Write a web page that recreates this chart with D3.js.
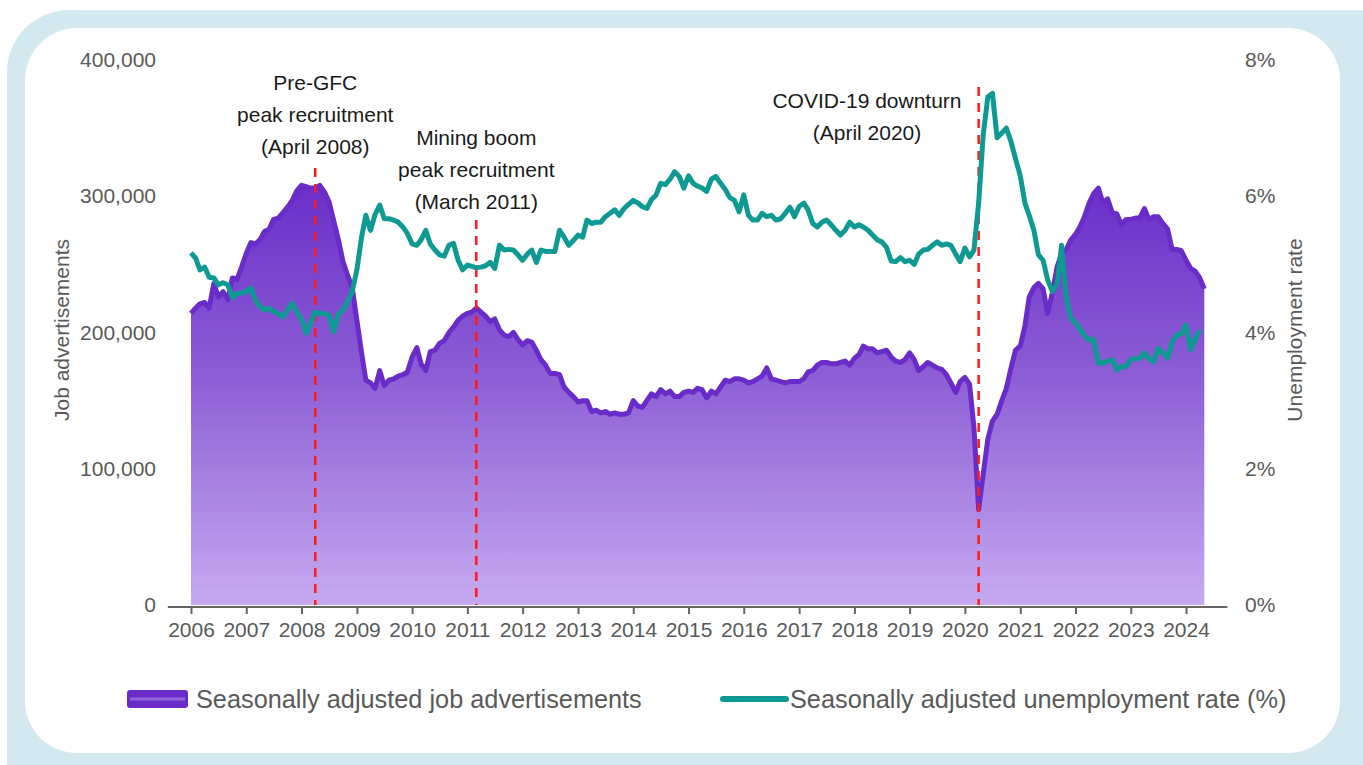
<!DOCTYPE html>
<html>
<head>
<meta charset="utf-8">
<script src="https://cdn.jsdelivr.net/npm/d3@7"></script>
<style>
  html, body { margin: 0; padding: 0; background: #fff; }
  svg { display: block; font-family: Arial, "Liberation Sans", sans-serif; }
</style>
</head>
<body>
<svg id="viz" width="1363" height="765"></svg>
<script>
// monthly series, Jan 2006 onward
var startYear = 2006;

// seasonally adjusted job advertisements ('000)
var jobAds = [
  214, 218, 221, 222, 218, 236, 226, 230, 224, 240, 239, 248,
  258, 266, 265, 268, 274, 276, 283, 284, 288, 292, 297, 304,
  308, 307, 306, 306, 308, 303, 296, 282, 268, 252, 242, 233,
  209, 185, 165, 163, 159, 172, 161, 165, 166, 168, 169, 171,
  182, 189, 177, 172, 186, 187, 192, 194, 200, 204, 209, 212,
  214, 215, 218, 215, 212, 208, 210, 202, 198, 197, 200, 195,
  191, 194, 193, 187, 180, 176, 170, 170, 169, 160, 156, 153,
  149, 150, 150, 142, 143, 141, 142, 140, 141, 140, 140, 141,
  150, 146, 145, 150, 155, 153, 158, 155, 157, 153, 153, 156,
  157, 156, 159, 158, 152, 157, 155, 160, 165, 164, 166, 166,
  165, 163, 164, 166, 168, 174, 166, 165, 164, 163, 164, 164,
  164, 166, 171, 172, 176, 178, 178, 177, 177, 178, 179, 176,
  181, 184, 190, 188, 188, 185, 186, 187, 182, 179, 178, 180,
  185, 180, 172, 175, 178, 176, 174, 173, 169, 163, 156, 164,
  167, 162, 130, 70, 96, 122, 135, 140, 150, 159, 174, 187,
  190, 205, 226, 233, 236, 232, 214, 229, 248, 258, 261, 268,
  272, 278, 285, 295, 302, 306, 295, 298, 288, 287, 279, 283,
  283, 284, 284, 291, 283, 285, 285, 280, 276, 261, 261, 260,
  253, 247, 245, 240, 232
];

// seasonally adjusted unemployment rate (%)
var unemployment = [
  5.17, 5.09, 4.92, 4.96, 4.81, 4.80, 4.70, 4.73, 4.70, 4.51, 4.57, 4.58,
  4.60, 4.65, 4.48, 4.38, 4.33, 4.36, 4.31, 4.28, 4.23, 4.33, 4.43, 4.30,
  4.20, 3.99, 4.14, 4.30, 4.28, 4.28, 4.25, 4.01, 4.27, 4.33, 4.45, 4.60,
  4.92, 5.40, 5.72, 5.50, 5.73, 5.87, 5.67, 5.67, 5.65, 5.62, 5.55, 5.45,
  5.30, 5.28, 5.36, 5.50, 5.30, 5.21, 5.14, 5.12, 5.28, 5.31, 5.06, 4.92,
  4.99, 4.97, 4.95, 4.96, 4.98, 5.03, 4.94, 5.28, 5.21, 5.22, 5.21, 5.14,
  5.06, 5.15, 5.21, 5.03, 5.21, 5.19, 5.19, 5.19, 5.50, 5.40, 5.28, 5.35,
  5.43, 5.40, 5.65, 5.60, 5.62, 5.62, 5.70, 5.75, 5.80, 5.72, 5.82, 5.88,
  5.94, 5.90, 5.85, 5.82, 5.95, 6.02, 6.19, 6.17, 6.25, 6.36, 6.29, 6.12,
  6.30, 6.19, 6.15, 6.12, 6.07, 6.25, 6.29, 6.19, 6.10, 5.98, 5.94, 5.77,
  6.02, 5.72, 5.65, 5.65, 5.75, 5.70, 5.72, 5.65, 5.67, 5.75, 5.84, 5.70,
  5.85, 5.90, 5.80, 5.60, 5.55, 5.62, 5.65, 5.58, 5.50, 5.43, 5.50, 5.62,
  5.55, 5.58, 5.55, 5.50, 5.43, 5.36, 5.33, 5.25, 5.05, 5.04, 5.10, 5.04,
  5.06, 5.00, 5.15, 5.21, 5.22, 5.28, 5.33, 5.28, 5.30, 5.28, 5.15, 5.04,
  5.24, 5.11, 5.21, 5.90, 6.90, 7.46, 7.51, 6.86, 6.93, 7.00, 6.80, 6.55,
  6.30, 5.90, 5.72, 5.50, 5.14, 5.06, 4.77, 4.60, 4.71, 5.28, 4.50, 4.21,
  4.14, 4.05, 3.95, 3.89, 3.90, 3.55, 3.55, 3.58, 3.60, 3.45, 3.50, 3.50,
  3.60, 3.62, 3.62, 3.70, 3.62, 3.57, 3.77, 3.70, 3.62, 3.86, 3.96, 3.98,
  4.11, 3.75, 3.90, 4.04
];

var years = d3.range(2006, 2025);
var leftTicks = [0, 100000, 200000, 300000, 400000];
var rightTicks = [0, 2, 4, 6, 8];

var eventDates = [new Date(2008, 3, 1), new Date(2011, 2, 1), new Date(2020, 3, 1)];
var eventLabels = [
  ["Pre-GFC", "peak recruitment", "(April 2008)"],
  ["Mining boom", "peak recruitment", "(March 2011)"],
  ["COVID-19 downturn", "(April 2020)"]
];

var legendLabels = ["Seasonally adjusted job advertisements", "Seasonally adjusted unemployment rate (%)"];

var purple = "#6a2cc8";
var teal = "#0e9a93";
var grey = "#595959";

var svg = d3.select("#viz");

// frame
svg.append("rect")
  .attr("x", 7).attr("y", 10).attr("width", 1420).attr("height", 820)
  .attr("rx", 62).attr("fill", "#d4e8ef");
svg.append("rect")
  .attr("x", 25).attr("y", 28).attr("width", 1315).attr("height", 725)
  .attr("rx", 52).attr("fill", "#fff");

var x = d3.scaleTime()
  .domain([new Date(2006, 0, 1), new Date(2024, 0, 1)])
  .range([191, 1186]);
var yL = d3.scaleLinear().domain([0, 400000]).range([605, 60]);
var yR = d3.scaleLinear().domain([0, 8]).range([605, 60]);

function monthDate(i) { return new Date(startYear, i, 1); }

// gradient for the area
var defs = svg.append("defs");
var grad = defs.append("linearGradient")
  .attr("id", "adsFill")
  .attr("gradientUnits", "userSpaceOnUse")
  .attr("x1", 0).attr("x2", 0)
  .attr("y1", yL(310000)).attr("y2", yL(0));
grad.append("stop").attr("offset", "0%").attr("stop-color", "#6a2ec9");
grad.append("stop").attr("offset", "45%").attr("stop-color", "#8c5dd5");
grad.append("stop").attr("offset", "100%").attr("stop-color", "#c6aaf0");

var area = d3.area()
  .x(function(d, i) { return x(monthDate(i)); })
  .y0(yL(0))
  .y1(function(d) { return yL(d * 1000); });

var adsLine = d3.line()
  .x(function(d, i) { return x(monthDate(i)); })
  .y(function(d) { return yL(d * 1000); });

var rateLine = d3.line()
  .x(function(d, i) { return x(monthDate(i)); })
  .y(function(d) { return yR(d); });

svg.append("path")
  .datum(jobAds)
  .attr("d", area)
  .attr("fill", "url(#adsFill)");

svg.append("path")
  .datum(jobAds)
  .attr("d", adsLine)
  .attr("fill", "none")
  .attr("stroke", purple)
  .attr("stroke-width", 5)
  .attr("stroke-linejoin", "round");

// x axis
var xAxis = d3.axisBottom(x)
  .tickValues(years.map(function(y) { return new Date(y, 0, 1); }))
  .tickFormat(d3.timeFormat("%Y"))
  .tickSizeInner(7)
  .tickSizeOuter(0)
  .tickPadding(8);

var gx = svg.append("g")
  .attr("transform", "translate(0,607)")
  .call(xAxis);
gx.select(".domain")
  .attr("d", "M" + x(new Date(2005, 7, 1)) + ",0H" + x(new Date(2024, 9, 1)))
  .attr("stroke", "#666").attr("stroke-width", 2);
gx.selectAll(".tick line").attr("stroke", "#666").attr("stroke-width", 2);
gx.selectAll("text")
  .attr("fill", grey)
  .style("font-size", "21px");

// left axis
var gl = svg.append("g")
  .attr("transform", "translate(170,0)")
  .call(d3.axisLeft(yL).tickValues(leftTicks).tickFormat(d3.format(",")).tickSize(0).tickPadding(14));
gl.select(".domain").remove();
gl.selectAll("text").attr("fill", grey).style("font-size", "21px");

// right axis
var gr = svg.append("g")
  .attr("transform", "translate(1230,0)")
  .call(d3.axisRight(yR).tickValues(rightTicks).tickFormat(function(d) { return d + "%"; }).tickSize(0).tickPadding(15));
gr.select(".domain").remove();
gr.selectAll("text").attr("fill", grey).style("font-size", "21px");

// axis titles
svg.append("text")
  .attr("transform", "translate(69,330) rotate(-90)")
  .attr("text-anchor", "middle")
  .attr("fill", grey)
  .style("font-size", "21px")
  .text("Job advertisements");

svg.append("text")
  .attr("transform", "translate(1302,330) rotate(-90)")
  .attr("text-anchor", "middle")
  .attr("fill", grey)
  .style("font-size", "21px")
  .text("Unemployment rate");

// event markers
var lineTops = [168, 220, 87];
var labelTops = [90, 145, 108];
eventDates.forEach(function(d, k) {
  svg.append("line")
    .attr("x1", x(d)).attr("x2", x(d))
    .attr("y1", lineTops[k]).attr("y2", yL(0))
    .attr("stroke", "#ff1a1a")
    .attr("stroke-width", 2.5)
    .attr("stroke-dasharray", "9,7");
});

svg.append("path")
  .datum(unemployment)
  .attr("d", rateLine)
  .attr("fill", "none")
  .attr("stroke", teal)
  .attr("stroke-width", 5)
  .attr("stroke-linejoin", "round");

var labelX = [x(eventDates[0]), x(eventDates[1]), 867];
eventLabels.forEach(function(lines, k) {
  var t = svg.append("text")
    .attr("text-anchor", "middle")
    .attr("fill", "#1a1a1a")
    .style("font-size", "21px");
  lines.forEach(function(s, j) {
    t.append("tspan")
      .attr("x", labelX[k])
      .attr("y", labelTops[k] + j * 32)
      .text(s);
  });
});

// legend
var lg = svg.append("g");
lg.append("rect")
  .attr("x", 127).attr("y", 690).attr("width", 61).attr("height", 18)
  .attr("rx", 3).attr("fill", purple);
lg.append("line")
  .attr("x1", 130).attr("x2", 185).attr("y1", 699).attr("y2", 699)
  .attr("stroke", "#8f63d9").attr("stroke-width", 3);
lg.append("text")
  .attr("x", 196).attr("y", 708)
  .attr("fill", grey)
  .style("font-size", "25.3px")
  .text(legendLabels[0]);

lg.append("line")
  .attr("x1", 723).attr("x2", 786).attr("y1", 699).attr("y2", 699)
  .attr("stroke", teal).attr("stroke-width", 6)
  .attr("stroke-linecap", "round");
lg.append("text")
  .attr("x", 790).attr("y", 708)
  .attr("fill", grey)
  .style("font-size", "25.3px")
  .text(legendLabels[1]);
</script>
</body>
</html>
